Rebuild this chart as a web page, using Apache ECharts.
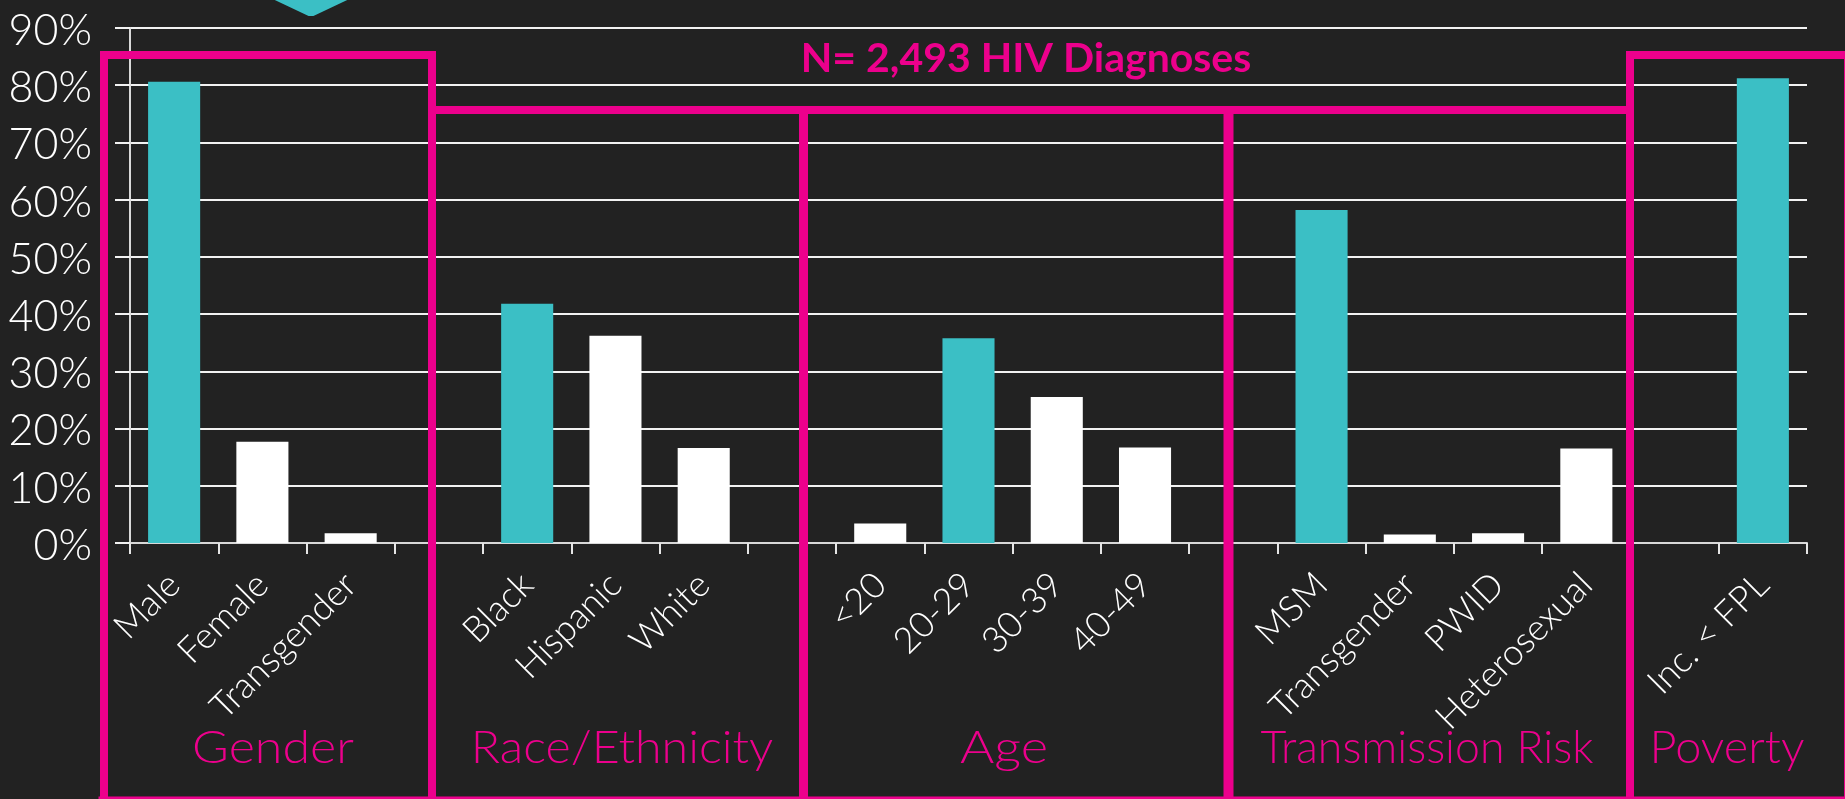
<!DOCTYPE html>
<html>
<head>
<meta charset="utf-8">
<style>html,body{margin:0;padding:0;background:#222222;}#c{width:1845px;height:799px;}</style>
<script src="https://cdn.jsdelivr.net/npm/echarts@6/dist/echarts.min.js"></script>
</head>
<body>
<div id="c"></div>
<script>
const categories = ['Male','Female','Transgender','','Black','Hispanic','White','','<20','20-29','30-39','40-49','','MSM','Transgender','PWID','Heterosexual','','Inc. < FPL'];
const values = [80.6,17.7,1.7,null,41.8,36.2,16.6,null,3.4,35.8,25.5,16.7,null,58.2,1.5,1.7,16.5,null,81.2];
const highlighted = ['Male','Black','20-29','MSM','Inc. < FPL'];
const yTicks = [0,10,20,30,40,50,60,70,80,90];
const groupLabels = ['Gender','Race/Ethnicity','Age','Transmission Risk','Poverty'];
const titleText = 'N= 2,493 HIV Diagnoses';

const TEAL='#3BBFC5', PINK='#EC008C', BG='#222222', FONT='Lato';
const chart = echarts.init(document.getElementById('c'));

function seg(x1,y1,x2,y2,w){
  return {type:'line',z:50,shape:{x1,y1,x2,y2},style:{stroke:PINK,lineWidth:w,lineCap:'square'}};
}
function label(text,x,y,size,weight,sx){
  return {type:'text',z:60,x,y,scaleX:sx||1,style:{text,fill:PINK,font:(weight||'300')+' '+size+'px '+FONT,align:'center',verticalAlign:'middle'}};
}
const groupX=[273,622,1004,1427,1727];
const groupScale=[1.09,1.05,1.14,0.97,1.02];

chart.setOption({
  animation:false,
  backgroundColor:BG,
  grid:{left:130,right:38,top:28,bottom:256,containLabel:false},
  xAxis:{type:'category',data:categories,boundaryGap:true,
    axisLine:{show:true,lineStyle:{color:'#D9D9D9',width:2}},
    axisTick:{show:true,alignWithLabel:false,length:11,inside:false,interval:0,lineStyle:{color:'#E6E6E6',width:2}},
    axisLabel:{interval:0,rotate:45,color:'#FFFFFF',fontFamily:FONT,fontWeight:300,fontSize:36,margin:36},
    splitLine:{show:false}},
  yAxis:{type:'value',min:0,max:90,interval:10,
    axisLine:{show:true,lineStyle:{color:'#D9D9D9',width:2}},
    axisTick:{show:true,length:15,lineStyle:{color:'#F2F2F2',width:2}},
    axisLabel:{color:'#FFFFFF',fontFamily:FONT,fontWeight:300,fontSize:43,margin:38,verticalAlign:'top',lineHeight:6,
      formatter:v=>yTicks.includes(v)?v+'%':''},
    splitLine:{show:true,lineStyle:{color:'#F2F2F2',width:2}}},
  series:[{type:'bar',barCategoryGap:'41%',z:5,
    data:values.map((v,i)=>({value:v,itemStyle:{color:highlighted.includes(categories[i])?TEAL:'#FFFFFF'}}))}],
  graphic:[
    {type:'polygon',z:40,shape:{points:[[275,-1],[309,15],[313,15],[347,-1]]},style:{fill:TEAL,stroke:TEAL,lineWidth:2,lineJoin:'round'}},
    seg(104,55,432,55,8), seg(104,55,104,799,8), seg(432,55,432,799,8),
    seg(432,110,1630,110,8), seg(803.5,114,803.5,799,9), seg(1228.5,114,1228.5,799,10),
    seg(1630,55,1630,799,8), seg(1630,55,1845,55,8),
    seg(100,798,1845,798,3), seg(1844.5,55,1844.5,799,1),
    ...groupLabels.map((t,i)=>label(t,groupX[i],748,46,'300',groupScale[i])),
    label(titleText,1026,59,41,'700')
  ]
});
</script>
</body>
</html>
